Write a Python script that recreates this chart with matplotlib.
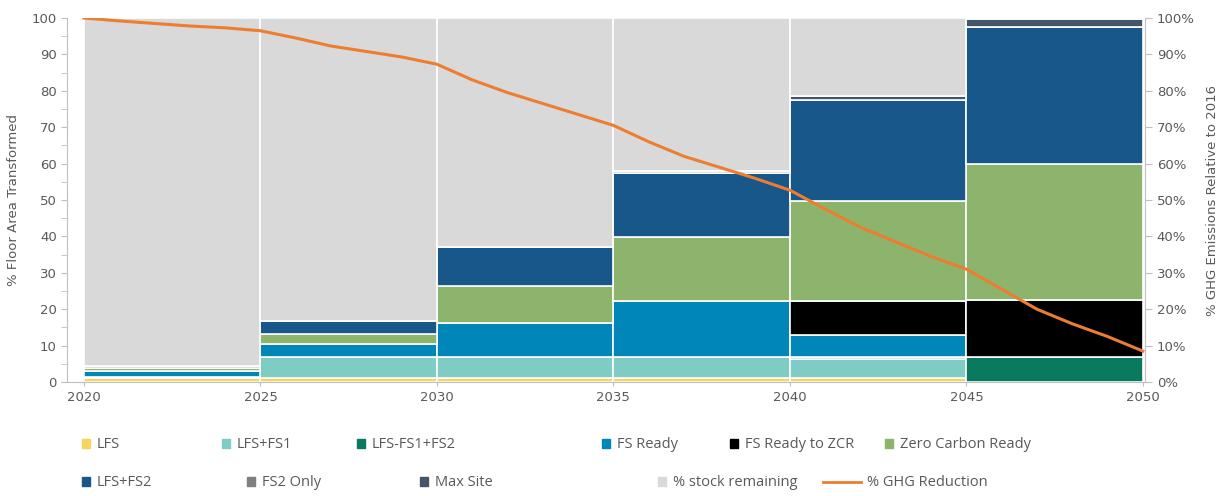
import matplotlib.pyplot as plt
import numpy as np
from matplotlib.patches import Patch
from matplotlib.lines import Line2D

plt.rcParams['font.family'] = ['Open Sans', 'DejaVu Sans']

# bar periods (left edge of each 5-year block)
starts = [2020, 2025, 2030, 2035, 2040, 2045]

# % floor area transformed, stacked bottom -> top
lfs = [1.0, 1.0, 1.0, 1.0, 1.0, 0.0]
lfs_fs1 = [0.5, 6.0, 6.0, 6.0, 5.2, 0.0]
lfs_fs1_fs2 = [0.0, 0.0, 0.0, 0.0, 0.6, 7.0]
fs_ready = [1.6, 3.5, 9.2, 15.3, 6.0, 0.0]
fs_to_zcr = [0.0, 0.0, 0.0, 0.0, 9.4, 15.4]
zcr = [0.8, 2.8, 10.3, 17.5, 27.5, 37.6]
lfs_fs2 = [0.4, 3.6, 10.6, 17.5, 27.7, 37.4]
fs2_only = [0.0, 0.0, 0.0, 0.0, 0.0, 0.0]
max_site = [0.0, 0.0, 0.0, 0.8, 1.3, 2.3]

# % GHG emissions relative to 2016 (yearly)
years = list(range(2020, 2051))
ghg = [100, 99.2, 98.5, 97.8, 97.3, 96.5, 94.5, 92.3, 90.8, 89.3, 87.3,
       83.0, 79.5, 76.5, 73.5, 70.5, 66.0, 62.0, 59.0, 56.0, 52.7,
       47.5, 42.5, 38.5, 34.5, 31.0, 25.5, 20.0, 16.0, 12.5, 8.5]

names = ['LFS', 'LFS+FS1', 'LFS-FS1+FS2', 'FS Ready', 'FS Ready to ZCR',
         'Zero Carbon Ready', 'LFS+FS2', 'FS2 Only', 'Max Site']
series = [lfs, lfs_fs1, lfs_fs1_fs2, fs_ready, fs_to_zcr, zcr, lfs_fs2,
          fs2_only, max_site]
colors = ['#F5D55A', '#7FCCC4', '#087B5F', '#0086B8', '#000000',
          '#8DB46C', '#17578A', '#7F7F7F', '#44546A']
stock_color = '#D9D9D9'
ghg_color = '#ED7D31'
txt = '#595959'
tick_font = 'DejaVu Sans'

remaining = 100 - np.sum(np.array(series), axis=0)

fig = plt.figure(figsize=(12.28, 4.96), dpi=100)
ax = fig.add_axes([0.0546, 0.2298, 0.8778, 0.7339])

bottom = np.zeros(len(starts))
for vals, c in zip(series, colors):
    ax.bar(starts, vals, width=5, align='edge', bottom=bottom, color=c,
           edgecolor='white', linewidth=1.2)
    bottom += np.array(vals)
ax.bar(starts, remaining, width=5, align='edge', bottom=bottom,
       color=stock_color, edgecolor='white', linewidth=1.2)

ax.set_xlim(2019.52, 2050.06)
ax.set_ylim(0, 100)
ax.set_xticks(range(2020, 2051, 5))
ax.set_yticks(range(0, 101, 10))
ax.set_yticks(range(5, 100, 10), minor=True)
ax.set_ylabel('% Floor Area Transformed', color=txt, fontsize=9.5,
              family=tick_font, labelpad=8)
ax.tick_params(colors=txt, labelsize=9.5, length=4, width=0.8,
               labelfontfamily=tick_font)
ax.tick_params(axis='y', which='minor', length=4, color='#BFBFBF')
ax.tick_params(axis='y', color='#BFBFBF')
ax.tick_params(axis='x', color='#BFBFBF', length=3)
for s in ['top', 'right']:
    ax.spines[s].set_visible(False)
for s in ['left', 'bottom']:
    ax.spines[s].set_color('#BFBFBF')

ax2 = ax.twinx()
ax2.plot(years, ghg, color=ghg_color, linewidth=2.2)
ax2.set_ylim(0, 100)
ax2.set_yticks(range(0, 101, 10))
ax2.set_yticklabels([f'{v}%' for v in range(0, 101, 10)])
ax2.set_ylabel('% GHG Emissions Relative to 2016', color=txt, fontsize=9.5,
               family=tick_font, labelpad=8)
ax2.tick_params(colors=txt, labelsize=9.5, length=5, width=0.8,
                labelfontfamily=tick_font)
ax2.tick_params(axis='y', color='#BFBFBF')
for s in ['top', 'left', 'bottom']:
    ax2.spines[s].set_visible(False)
ax2.spines['right'].set_color('#BFBFBF')

# legend, laid out like the original (two centred rows)
handles = [Patch(color=c) for c in colors] + [Patch(color=stock_color)]
labels = names + ['% stock remaining']
handles.append(Line2D([0], [0], color=ghg_color, linewidth=2))
labels.append('% GHG Reduction')
spots = [(82, 445), (222, 445), (357, 445), (602, 445), (730, 445),
         (885, 445), (82, 483), (247, 483), (420, 483), (658, 483),
         (823, 483)]
W, H = 1228.0, 496.0
for h, l, (px, py) in zip(handles, labels, spots):
    is_line = isinstance(h, Line2D)
    leg = fig.legend([h], [l], loc='center left',
                     bbox_to_anchor=(px / W, 1 - py / H), frameon=False,
                     fontsize=10.5, borderpad=0, borderaxespad=0,
                     handlelength=2.6 if is_line else 0.55,
                     handleheight=0.55, handletextpad=0.45)
    for t in leg.get_texts():
        t.set_color(txt)

fig.savefig('out.png', dpi=100)
